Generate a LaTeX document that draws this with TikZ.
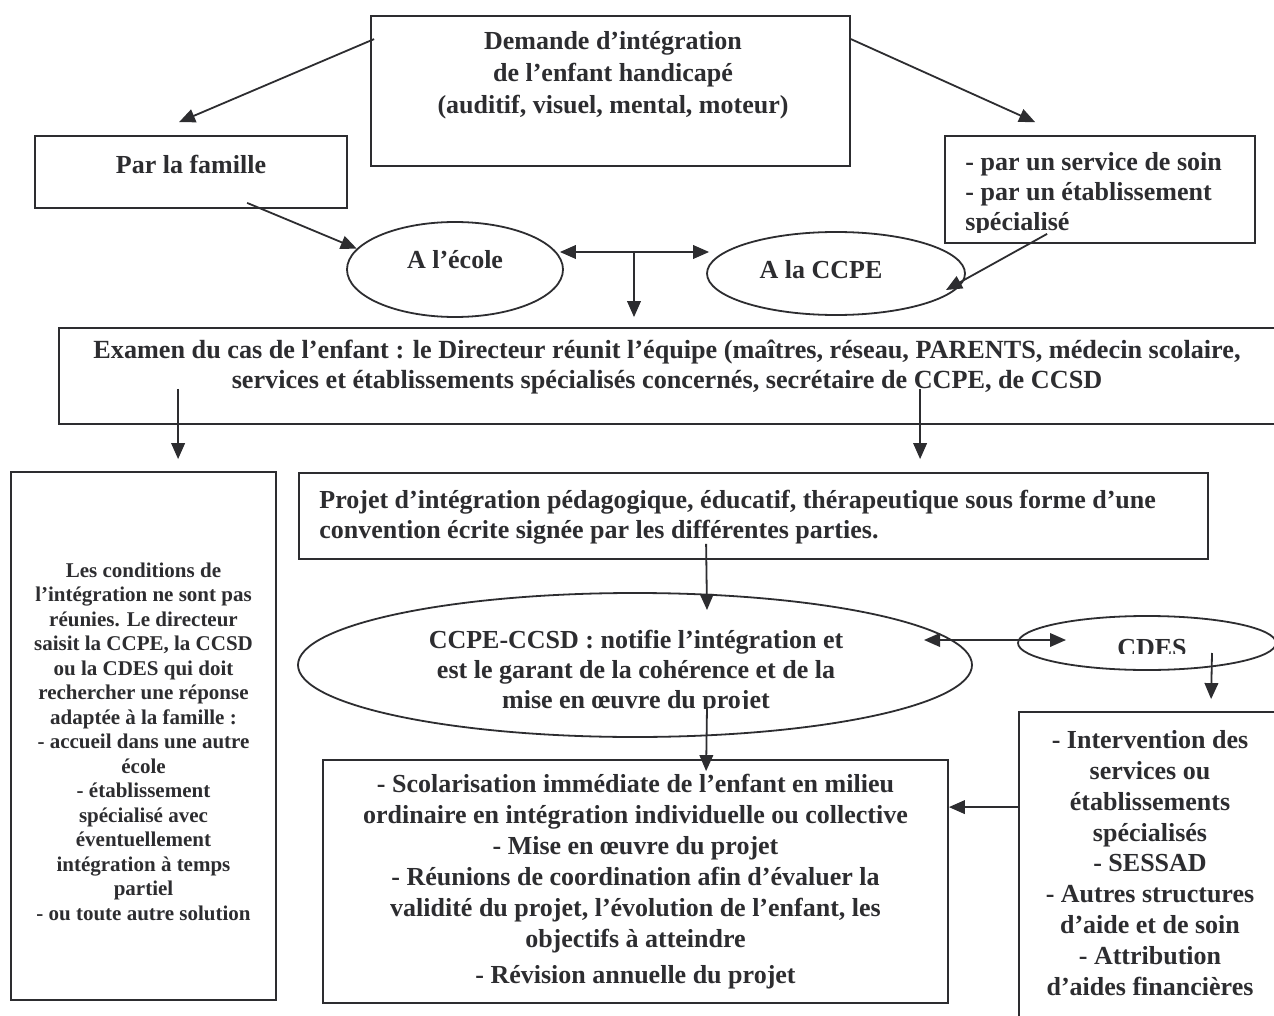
\documentclass[tikz,border=0pt]{standalone}
\usepackage{fontspec}
\setmainfont{Liberation Serif}
\usetikzlibrary{arrows.meta,shapes.geometric,calc}
\definecolor{ink}{RGB}{45,45,48}
\begin{document}
\begin{tikzpicture}[x=0.5pt,y=-0.5pt,
  box/.style={draw=ink, line width=0.9pt, rectangle, inner sep=0pt},
  oval/.style={draw=ink, line width=0.9pt, ellipse, inner sep=0pt},
  txt/.style={text=ink, font=\bfseries\fontsize{13}{15.4}\selectfont, align=center, inner sep=0pt},
  small/.style={text=ink, font=\bfseries\fontsize{10.5}{12.25}\selectfont, align=center, inner sep=0pt},
  arr/.style={draw=ink, line width=0.9pt, -{Triangle[length=8pt,width=6.8pt]}},
  darr/.style={draw=ink, line width=0.9pt, {Triangle[length=8pt,width=6.8pt]}-{Triangle[length=8pt,width=6.8pt]}},
]
\clip (0,0) rectangle (1274,1016);
\fill[white] (0,0) rectangle (1274,1016);

% boxes and ellipses
\node[box, minimum width=239.5pt, minimum height=75pt] (demande) at (610.5,91) {};
\node[box, minimum width=156pt, minimum height=36pt] (famille) at (191,172) {};
\node[box, minimum width=155pt, minimum height=53.5pt] (soin) at (1100,189.5) {};
\node[oval, minimum width=108pt, minimum height=47.5pt] (ecole) at (455,269.5) {};
\node[oval, minimum width=129pt, minimum height=41.5pt] (ccpe) at (836,273.5) {};
\node[box, minimum width=610.5pt, minimum height=48pt] (examen) at (669.5,376) {};
\node[box, minimum width=132.5pt, minimum height=264pt] (cond) at (143.5,736) {};
\node[box, minimum width=454.5pt, minimum height=43pt] (projet) at (753.5,516) {};
\node[oval, minimum width=337pt, minimum height=72pt] (ccsd) at (635,665) {};
\node[oval, minimum width=129pt, minimum height=27pt] (cdes) at (1147,643) {};
\node[box, minimum width=133pt, minimum height=156.5pt] (interv) at (1152,868.5) {};
\node[box, minimum width=312.5pt, minimum height=121.5pt] (scol) at (635.5,881.5) {};

% texts
\node[txt, font=\bfseries\fontsize{13}{16}\selectfont] (demandeT) at (613,75)
  {Demande d’intégration\\de l’enfant handicapé\\(auditif, visuel, mental, moteur)};
\node[txt] (familleT) at (191,164) {Par la famille};
\begin{scope}
  \clip (945,136) rectangle (1255,233);
  \node[txt, align=left, anchor=west, font=\bfseries\fontsize{13}{15}\selectfont] (soinT) at (965,194)
    {- par un service de soin\\- par un établissement\\spécialisé};
\end{scope}
\node[txt] (ecoleT) at (455,260) {A l’école};
\node[txt] (ccpeT) at (821,270) {A la CCPE};
\node[txt, font=\bfseries\fontsize{13.1}{15}\selectfont] (examenT) at (667,367)
  {Examen du cas de l’enfant : le Directeur réunit l’équipe (maîtres, réseau, PARENTS, médecin scolaire,\\
   services et établissements spécialisés concernés, secrétaire de CCPE, de CCSD};
\node[small] (condT) at (143.5,741.5)
  {Les conditions de\\l’intégration ne sont pas\\réunies. Le directeur\\saisit la CCPE, la CCSD\\ou la CDES qui doit\\rechercher une réponse\\adaptée à la famille :\\- accueil dans une autre\\école\\- établissement\\spécialisé avec\\éventuellement\\intégration à temps\\partiel\\- ou toute autre solution};
\node[txt, align=left, anchor=west, font=\bfseries\fontsize{13}{15}\selectfont] (projetT) at (319,517)
  {Projet d’intégration pédagogique, éducatif, thérapeutique sous forme d’une\\convention écrite signée par les différentes parties.};
\begin{scope}
  \clip (300,590) rectangle (970,708);
  \node[txt, font=\bfseries\fontsize{13}{15}\selectfont] (ccsdT) at (636,672)
    {CCPE-CCSD : notifie l’intégration et\\est le garant de la cohérence et de la\\mise en œuvre du projet};
\end{scope}
\begin{scope}
  \clip (1020,616) rectangle (1274,653);
  \node[txt] (cdesT) at (1152,648) {CDES};
\end{scope}
\node[txt] (intervT) at (1150,863)
  {- Intervention des\\services ou\\établissements\\spécialisés\\- SESSAD\\- Autres structures\\d’aide et de soin\\- Attribution\\d’aides financières};
\node[txt, font=\bfseries\fontsize{13}{15.5}\selectfont] (scolT) at (635.5,881.5)
  {- Scolarisation immédiate de l’enfant en milieu\\ordinaire en intégration individuelle ou collective\\- Mise en œuvre du projet\\- Réunions de coordination afin d’évaluer la\\validité du projet, l’évolution de l’enfant, les\\objectifs à atteindre\\[2.5pt]- Révision annuelle du projet};

% connectors
\draw[arr] ($(demande.north west)+(4,24)$) -- ($(famille.north west)+(145,-13)$);
\draw[arr] ($(demande.north east)+(0,24)$) -- ($(soin.north west)+(91,-13)$);
\draw[arr] ($(famille.south west)+(213,-6)$) -- (ecole.168);
\draw[darr] ($(ecole.east)+(-4,-17.5)$) -- ($(ccpe.west)+(3,-21.5)$);
\coordinate (jn) at (634,252);
\draw[arr, shorten >=5pt] (jn) -- (jn |- examen.north);
\draw[arr] ($(soin.south west)+(103,-10)$) -- ($(ccpe.center)+(110,16.5)$);
\draw[arr] ($(examen.south west)+(120,-36)$) -- ($(cond.north west)+(168,-12)$);
\draw[arr] ($(examen.south west)+(862,-36)$) -- ($(projet.north west)+(622,-13)$);
\draw[arr] ($(projet.south west)+(408,-16)$) -- ($(ccsd.center)+(72,-55)$);
\draw[arr] ($(ccsd.center)+(72,42)$) -- ($(scol.north west)+(384,12)$);
\draw[darr] ($(ccsd.center)+(289,-25)$) -- ($(cdes.center)+(-81,-3)$);
\draw[arr] ($(cdes.center)+(65,10)$) -- ($(interv.north west)+(193,-12)$);
\draw[arr] ($(interv.north west)+(0,96)$) -- ($(scol.north east)+(0,48)$);
\end{tikzpicture}
\end{document}
